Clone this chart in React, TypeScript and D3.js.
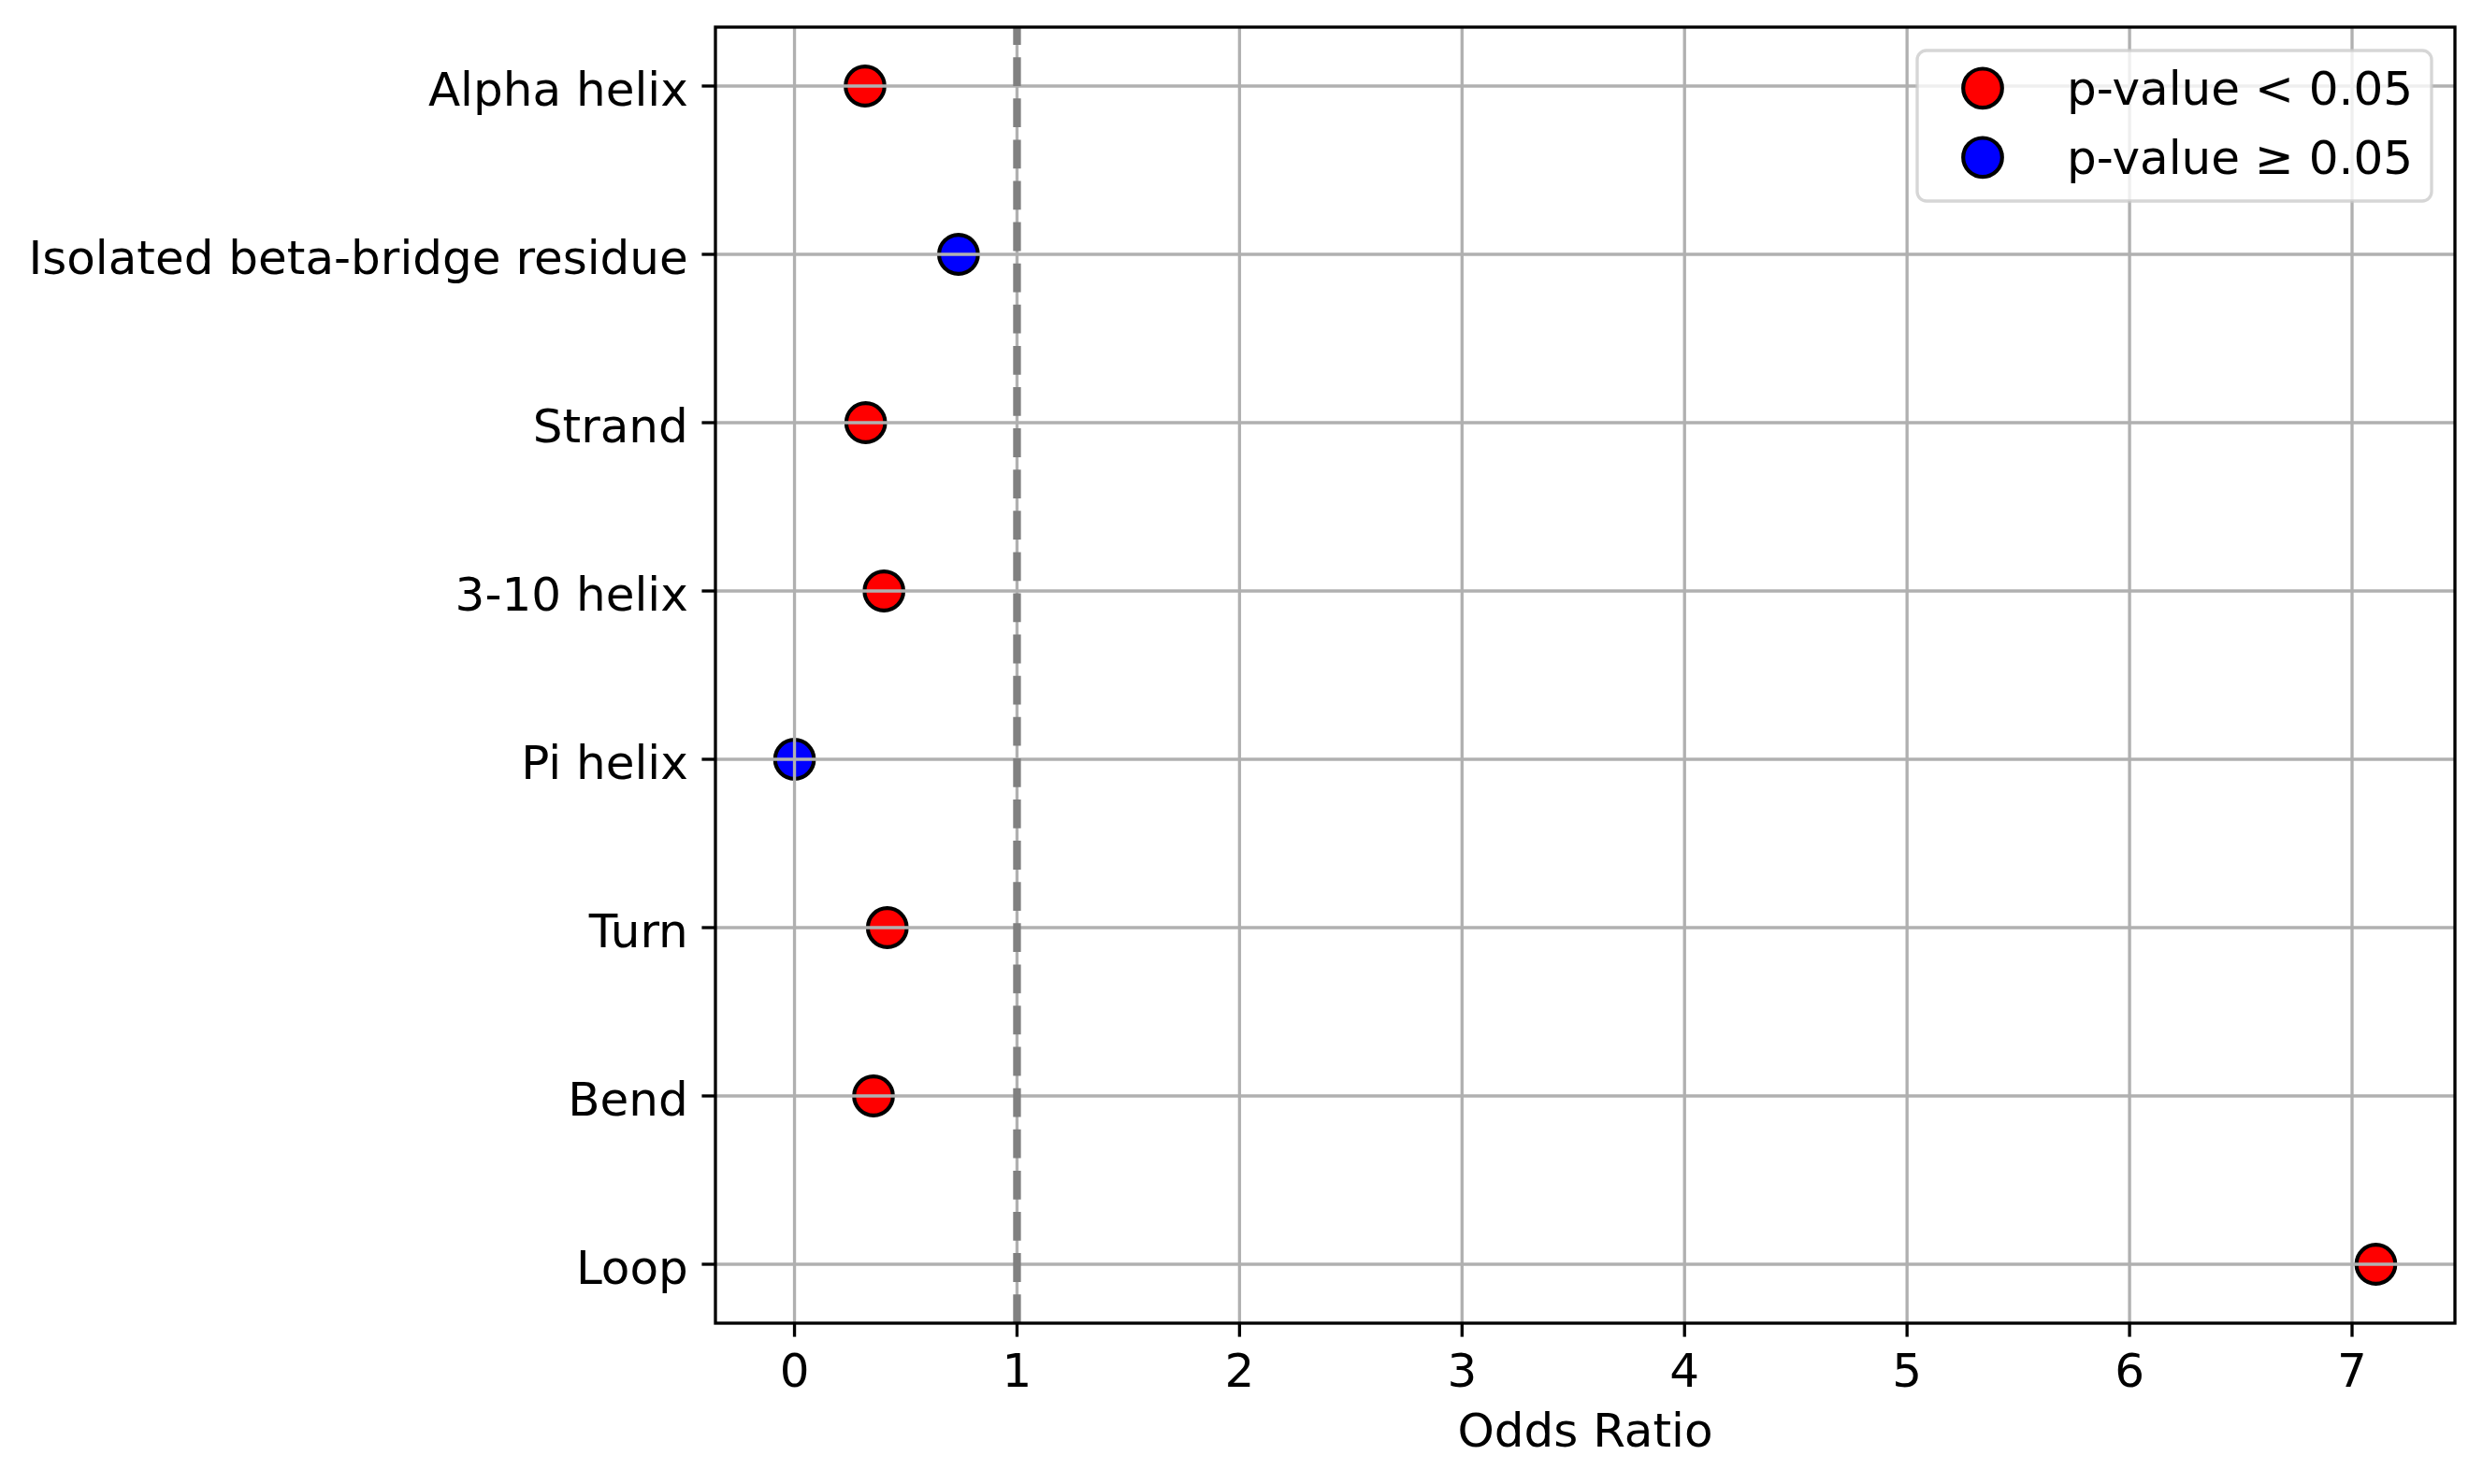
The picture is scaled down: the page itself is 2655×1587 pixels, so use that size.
import * as d3 from 'd3';

const categories = [
  'Alpha helix',
  'Isolated beta-bridge residue',
  'Strand',
  '3-10 helix',
  'Pi helix',
  'Turn',
  'Bend',
  'Loop',
];
const oddsRatios = [0.317, 0.737, 0.32, 0.402, 0, 0.417, 0.355, 7.107];
const significant = [true, false, true, true, false, true, true, true];
const xTicks = [0, 1, 2, 3, 4, 5, 6, 7];
const legendLabels = ['p-value < 0.05', 'p-value \u2265 0.05'];
const legendColors = ['#ff0000', '#0000ff'];

const W = 2655;
const H = 1587;
const M = { left: 765, right: 2625, top: 29, bottom: 1415 };
const FONT = '"DejaVu Sans", sans-serif';
const FS = 50;
const TICK = 14.6;

export default function App() {
  const [lo, hi] = d3.extent(oddsRatios) as [number, number];
  const pad = (hi - lo) * 0.05;
  const x = d3.scaleLinear().domain([lo - pad, hi + pad]).range([M.left, M.right]);
  const y = d3.scalePoint<string>().domain(categories).range([M.top, M.bottom]).padding(0.35);

  const points = categories.map((c, i) => ({ c, v: oddsRatios[i], sig: significant[i] }));

  return (
    <svg
      width={W}
      height={H}
      style={{ position: 'absolute', left: 0, top: 0, background: '#fff' }}
      fontFamily={FONT}
    >
      <rect width={W} height={H} fill="#fff" />

      {/* markers sit under the grid, as in the source */}
      {points.map((p) => (
        <circle
          key={p.c}
          cx={x(p.v)}
          cy={y(p.c)}
          r={20.8}
          fill={p.sig ? legendColors[0] : legendColors[1]}
          stroke="#000"
          strokeWidth={4.17}
        />
      ))}

      <g stroke="#b0b0b0" strokeWidth={3.33}>
        {xTicks.map((t) => (
          <line key={t} x1={x(t)} x2={x(t)} y1={M.top} y2={M.bottom} />
        ))}
        {categories.map((c) => (
          <line key={c} x1={M.left} x2={M.right} y1={y(c)} y2={y(c)} />
        ))}
      </g>

      <line
        x1={x(1)}
        x2={x(1)}
        y1={M.bottom}
        y2={M.top}
        stroke="#808080"
        strokeWidth={8.33}
        strokeDasharray="30.8 13.3"
      />

      <rect
        x={M.left}
        y={M.top}
        width={M.right - M.left}
        height={M.bottom - M.top}
        fill="none"
        stroke="#000"
        strokeWidth={3.33}
      />

      {/* x axis */}
      <g>
        {xTicks.map((t) => (
          <g key={t}>
            <line x1={x(t)} x2={x(t)} y1={M.bottom} y2={M.bottom + TICK} stroke="#000" strokeWidth={3.33} />
            <text x={x(t)} y={1483} textAnchor="middle" fontSize={FS} fill="#000">
              {t}
            </text>
          </g>
        ))}
        <text x={(M.left + M.right) / 2} y={1546.7} textAnchor="middle" fontSize={FS} fill="#000">
          Odds Ratio
        </text>
      </g>

      {/* y axis */}
      <g>
        {categories.map((c) => (
          <g key={c}>
            <line x1={M.left - TICK} x2={M.left} y1={y(c)} y2={y(c)} stroke="#000" strokeWidth={3.33} />
            <text x={M.left - TICK - 14.6} y={y(c)} dy="0.42em" textAnchor="end" fontSize={FS} fill="#000">
              {c}
            </text>
          </g>
        ))}
      </g>

      {/* legend */}
      <g>
        <rect
          x={2050}
          y={54}
          width={550}
          height={161}
          rx={10}
          fill="#fff"
          fillOpacity={0.8}
          stroke="#cccccc"
          strokeOpacity={0.8}
          strokeWidth={3.33}
        />
        {legendLabels.map((l, i) => (
          <g key={l}>
            <circle cx={2120} cy={94.3 + i * 74} r={20.8} fill={legendColors[i]} stroke="#000" strokeWidth={4.17} />
            <text x={2210} y={94.3 + i * 74} dy="0.35em" fontSize={FS} fill="#000">
              {l}
            </text>
          </g>
        ))}
      </g>
    </svg>
  );
}
